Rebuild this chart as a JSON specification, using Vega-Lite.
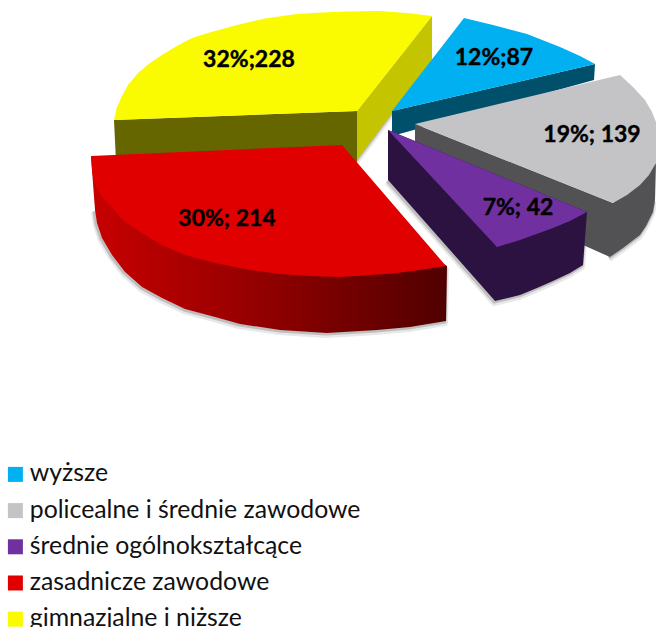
{"$schema":"https://vega.github.io/schema/vega-lite/v6.json","width":656,"height":627,"padding":0,"autosize":{"type":"none"},"background":"white","view":{"stroke":null},
"datasets":{"outline":[
{"part":"yellowFront","i":1,"x":114,"y":120},{"part":"yellowFront","i":2,"x":357,"y":111},{"part":"yellowFront","i":3,"x":357,"y":162},{"part":"yellowFront","i":4,"x":116,"y":162},
{"part":"yellowEnd","i":1,"x":357,"y":111},{"part":"yellowEnd","i":2,"x":432,"y":16},{"part":"yellowEnd","i":3,"x":432,"y":60},{"part":"yellowEnd","i":4,"x":357,"y":160},
{"part":"blueSide","i":1,"x":392,"y":111},{"part":"blueSide","i":2,"x":595,"y":64},{"part":"blueSide","i":3,"x":594,"y":80},{"part":"blueSide","i":4,"x":392,"y":136},
{"part":"greySide","i":1,"x":415,"y":124},{"part":"greySide","i":2,"x":613,"y":203},{"part":"greySide","i":3,"x":656,"y":163},{"part":"greySide","i":4,"x":655,"y":200},{"part":"greySide","i":5,"x":653,"y":212},{"part":"greySide","i":6,"x":646,"y":226},{"part":"greySide","i":7,"x":640,"y":235},{"part":"greySide","i":8,"x":623,"y":248},{"part":"greySide","i":9,"x":610,"y":257},{"part":"greySide","i":10,"x":415,"y":170},
{"part":"purpleSide","i":1,"x":388,"y":130},{"part":"purpleSide","i":2,"x":587,"y":212},{"part":"purpleSide","i":3,"x":583,"y":265},{"part":"purpleSide","i":4,"x":570,"y":273},{"part":"purpleSide","i":5,"x":553,"y":281},{"part":"purpleSide","i":6,"x":537,"y":288},{"part":"purpleSide","i":7,"x":520,"y":295},{"part":"purpleSide","i":8,"x":495,"y":301},{"part":"purpleSide","i":9,"x":388,"y":180},
{"part":"redSide","i":1,"x":91,"y":156},{"part":"redSide","i":2,"x":92,"y":170},{"part":"redSide","i":3,"x":95,"y":210},{"part":"redSide","i":4,"x":97,"y":223},{"part":"redSide","i":5,"x":102,"y":238},{"part":"redSide","i":6,"x":112,"y":255},{"part":"redSide","i":7,"x":125,"y":272},{"part":"redSide","i":8,"x":142,"y":287},{"part":"redSide","i":9,"x":162,"y":298},{"part":"redSide","i":10,"x":185,"y":309},{"part":"redSide","i":11,"x":215,"y":317},{"part":"redSide","i":12,"x":240,"y":324},{"part":"redSide","i":13,"x":280,"y":330},{"part":"redSide","i":14,"x":327,"y":333},{"part":"redSide","i":15,"x":377,"y":330},{"part":"redSide","i":16,"x":410,"y":327},{"part":"redSide","i":17,"x":446,"y":321},{"part":"redSide","i":18,"x":447,"y":266},{"part":"redSide","i":19,"x":342,"y":200},
{"part":"face","slice":"gimnazjalne i niższe","i":1,"x":357,"y":111},{"part":"face","slice":"gimnazjalne i niższe","i":2,"x":114,"y":120},{"part":"face","slice":"gimnazjalne i niższe","i":3,"x":116.7,"y":108},{"part":"face","slice":"gimnazjalne i niższe","i":4,"x":121.7,"y":96.7},{"part":"face","slice":"gimnazjalne i niższe","i":5,"x":128,"y":85},{"part":"face","slice":"gimnazjalne i niższe","i":6,"x":138,"y":73},{"part":"face","slice":"gimnazjalne i niższe","i":7,"x":150,"y":63},{"part":"face","slice":"gimnazjalne i niższe","i":8,"x":162,"y":55},{"part":"face","slice":"gimnazjalne i niższe","i":9,"x":175,"y":47},{"part":"face","slice":"gimnazjalne i niższe","i":10,"x":192,"y":38},{"part":"face","slice":"gimnazjalne i niższe","i":11,"x":208,"y":33},{"part":"face","slice":"gimnazjalne i niższe","i":12,"x":235,"y":25.5},{"part":"face","slice":"gimnazjalne i niższe","i":13,"x":265,"y":18.5},{"part":"face","slice":"gimnazjalne i niższe","i":14,"x":297,"y":14},{"part":"face","slice":"gimnazjalne i niższe","i":15,"x":322,"y":12.5},{"part":"face","slice":"gimnazjalne i niższe","i":16,"x":347,"y":11.5},{"part":"face","slice":"gimnazjalne i niższe","i":17,"x":380,"y":11},{"part":"face","slice":"gimnazjalne i niższe","i":18,"x":412,"y":13.5},{"part":"face","slice":"gimnazjalne i niższe","i":19,"x":432,"y":16},
{"part":"face","slice":"wyższe","i":1,"x":392,"y":111},{"part":"face","slice":"wyższe","i":2,"x":464,"y":18},{"part":"face","slice":"wyższe","i":3,"x":493,"y":25},{"part":"face","slice":"wyższe","i":4,"x":527,"y":34},{"part":"face","slice":"wyższe","i":5,"x":560,"y":47},{"part":"face","slice":"wyższe","i":6,"x":580,"y":56},{"part":"face","slice":"wyższe","i":7,"x":595,"y":64},
{"part":"face","slice":"policealne i średnie zawodowe","i":1,"x":415,"y":124},{"part":"face","slice":"policealne i średnie zawodowe","i":2,"x":620,"y":75},{"part":"face","slice":"policealne i średnie zawodowe","i":3,"x":633,"y":87},{"part":"face","slice":"policealne i średnie zawodowe","i":4,"x":645,"y":100},{"part":"face","slice":"policealne i średnie zawodowe","i":5,"x":652,"y":112},{"part":"face","slice":"policealne i średnie zawodowe","i":6,"x":656,"y":122},{"part":"face","slice":"policealne i średnie zawodowe","i":7,"x":656,"y":163},{"part":"face","slice":"policealne i średnie zawodowe","i":8,"x":649,"y":175},{"part":"face","slice":"policealne i średnie zawodowe","i":9,"x":640,"y":185},{"part":"face","slice":"policealne i średnie zawodowe","i":10,"x":627,"y":195},{"part":"face","slice":"policealne i średnie zawodowe","i":11,"x":613,"y":203},
{"part":"face","slice":"średnie ogólnokształcące","i":1,"x":388,"y":130},{"part":"face","slice":"średnie ogólnokształcące","i":2,"x":587,"y":212},{"part":"face","slice":"średnie ogólnokształcące","i":3,"x":570,"y":221},{"part":"face","slice":"średnie ogólnokształcące","i":4,"x":553,"y":228},{"part":"face","slice":"średnie ogólnokształcące","i":5,"x":520,"y":240},{"part":"face","slice":"średnie ogólnokształcące","i":6,"x":497,"y":247},
{"part":"face","slice":"zasadnicze zawodowe","i":1,"x":91,"y":156},{"part":"face","slice":"zasadnicze zawodowe","i":2,"x":342,"y":145},{"part":"face","slice":"zasadnicze zawodowe","i":3,"x":446,"y":266},{"part":"face","slice":"zasadnicze zawodowe","i":4,"x":420,"y":270},{"part":"face","slice":"zasadnicze zawodowe","i":5,"x":393,"y":273.5},{"part":"face","slice":"zasadnicze zawodowe","i":6,"x":340,"y":277},{"part":"face","slice":"zasadnicze zawodowe","i":7,"x":310,"y":276},{"part":"face","slice":"zasadnicze zawodowe","i":8,"x":280,"y":274},{"part":"face","slice":"zasadnicze zawodowe","i":9,"x":250,"y":270},{"part":"face","slice":"zasadnicze zawodowe","i":10,"x":215,"y":263},{"part":"face","slice":"zasadnicze zawodowe","i":11,"x":185,"y":255},{"part":"face","slice":"zasadnicze zawodowe","i":12,"x":162,"y":245},{"part":"face","slice":"zasadnicze zawodowe","i":13,"x":142,"y":233},{"part":"face","slice":"zasadnicze zawodowe","i":14,"x":125,"y":222},{"part":"face","slice":"zasadnicze zawodowe","i":15,"x":112,"y":208},{"part":"face","slice":"zasadnicze zawodowe","i":16,"x":102,"y":197},{"part":"face","slice":"zasadnicze zawodowe","i":17,"x":94,"y":183},{"part":"face","slice":"zasadnicze zawodowe","i":18,"x":92,"y":170}
],
"labels":[
{"slice":"wyższe","share":12,"count":87,"label":"12%;87","x":494,"y":58},
{"slice":"policealne i średnie zawodowe","share":19,"count":139,"label":"19%; 139","x":592,"y":135},
{"slice":"średnie ogólnokształcące","share":7,"count":42,"label":"7%; 42","x":518,"y":208},
{"slice":"zasadnicze zawodowe","share":30,"count":214,"label":"30%; 214","x":227,"y":219},
{"slice":"gimnazjalne i niższe","share":32,"count":228,"label":"32%;228","x":249,"y":60}
]},
"encoding":{"x":{"field":"x","type":"quantitative","axis":null,"scale":{"domain":[0,656],"range":[0,656]}},"y":{"field":"y","type":"quantitative","axis":null,"scale":{"domain":[627,0],"range":[627,0]}}},
"layer":[
{"data":{"name":"outline"},"transform":[{"filter":"(datum.part=='redSide'&&datum.i>=3&&datum.i<=18)||(datum.part=='purpleSide'&&datum.i>=2)||(datum.part=='greySide'&&datum.i>=4&&datum.i<=9)||(datum.part=='yellowEnd'&&datum.i>=3)"}],"mark":{"type":"line","filled":false,"stroke":"#808080","strokeWidth":6,"opacity":0.18,"yOffset":2,"xOffset":-1,"strokeJoin":"round"},"encoding":{"detail":{"field":"part"},"order":{"field":"i"}}},
{"data":{"name":"outline"},"transform":[{"filter":"(datum.part=='redSide'&&datum.i>=3&&datum.i<=18)||(datum.part=='purpleSide'&&datum.i>=2)||(datum.part=='greySide'&&datum.i>=4&&datum.i<=9)||(datum.part=='yellowEnd'&&datum.i>=3)"}],"mark":{"type":"line","filled":false,"stroke":"#606060","strokeWidth":3,"opacity":0.3,"yOffset":1,"xOffset":-1,"strokeJoin":"round"},"encoding":{"detail":{"field":"part"},"order":{"field":"i"}}},
{"data":{"name":"outline"},"transform":[{"filter":"datum.part=='yellowEnd'"}],"mark":{"type":"line","filled":true,"fill":"#c4c400","stroke":null},"encoding":{"order":{"field":"i"}}},
{"data":{"name":"outline"},"transform":[{"filter":"datum.part=='yellowFront'"}],"mark":{"type":"line","filled":true,"fill":"#666600","stroke":null},"encoding":{"order":{"field":"i"}}},
{"data":{"name":"outline"},"transform":[{"filter":"datum.part=='blueSide'"}],"mark":{"type":"line","filled":true,"fill":"#00506c","stroke":null},"encoding":{"order":{"field":"i"}}},
{"data":{"name":"outline"},"transform":[{"filter":"datum.part=='greySide'"}],"mark":{"type":"line","filled":true,"fill":"#525254","stroke":null},"encoding":{"order":{"field":"i"}}},
{"data":{"name":"outline"},"transform":[{"filter":"datum.part=='purpleSide'"}],"mark":{"type":"line","filled":true,"fill":"#2c1240","stroke":null},"encoding":{"order":{"field":"i"}}},
{"data":{"name":"outline"},"transform":[{"filter":"datum.part=='redSide'"}],"mark":{"type":"line","filled":true,"stroke":null,"fill":{"gradient":"linear","x1":0,"y1":0,"x2":1,"y2":0,"stops":[{"offset":0,"color":"#c80000"},{"offset":0.45,"color":"#960000"},{"offset":1,"color":"#500000"}]}},"encoding":{"order":{"field":"i"}}},
{"data":{"name":"outline"},"transform":[{"filter":"datum.part=='face'"}],"mark":{"type":"line","filled":true,"stroke":null},"encoding":{"order":{"field":"i"},"color":{"field":"slice","type":"nominal","scale":{"domain":["wyższe","policealne i średnie zawodowe","średnie ogólnokształcące","zasadnicze zawodowe","gimnazjalne i niższe"],"range":["#00b0f0","#c4c4c6","#7030a0","#e00000","#fafa00"]},"legend":{"title":null,"orient":"none","legendX":3,"legendY":462,"symbolType":"square","symbolSize":225,"symbolStrokeWidth":0,"labelFont":"Lato","labelFontSize":24.8,"labelColor":"#111111","labelOffset":2,"rowPadding":10.2,"padding":0,"labelLimit":500}}}},
{"data":{"name":"labels"},"mark":{"type":"text","font":"Lato","fontWeight":"bold","fontSize":23,"color":"#000000","stroke":"#000000","strokeWidth":0.4,"align":"center","baseline":"middle"},"encoding":{"text":{"field":"label"}}}
]}
